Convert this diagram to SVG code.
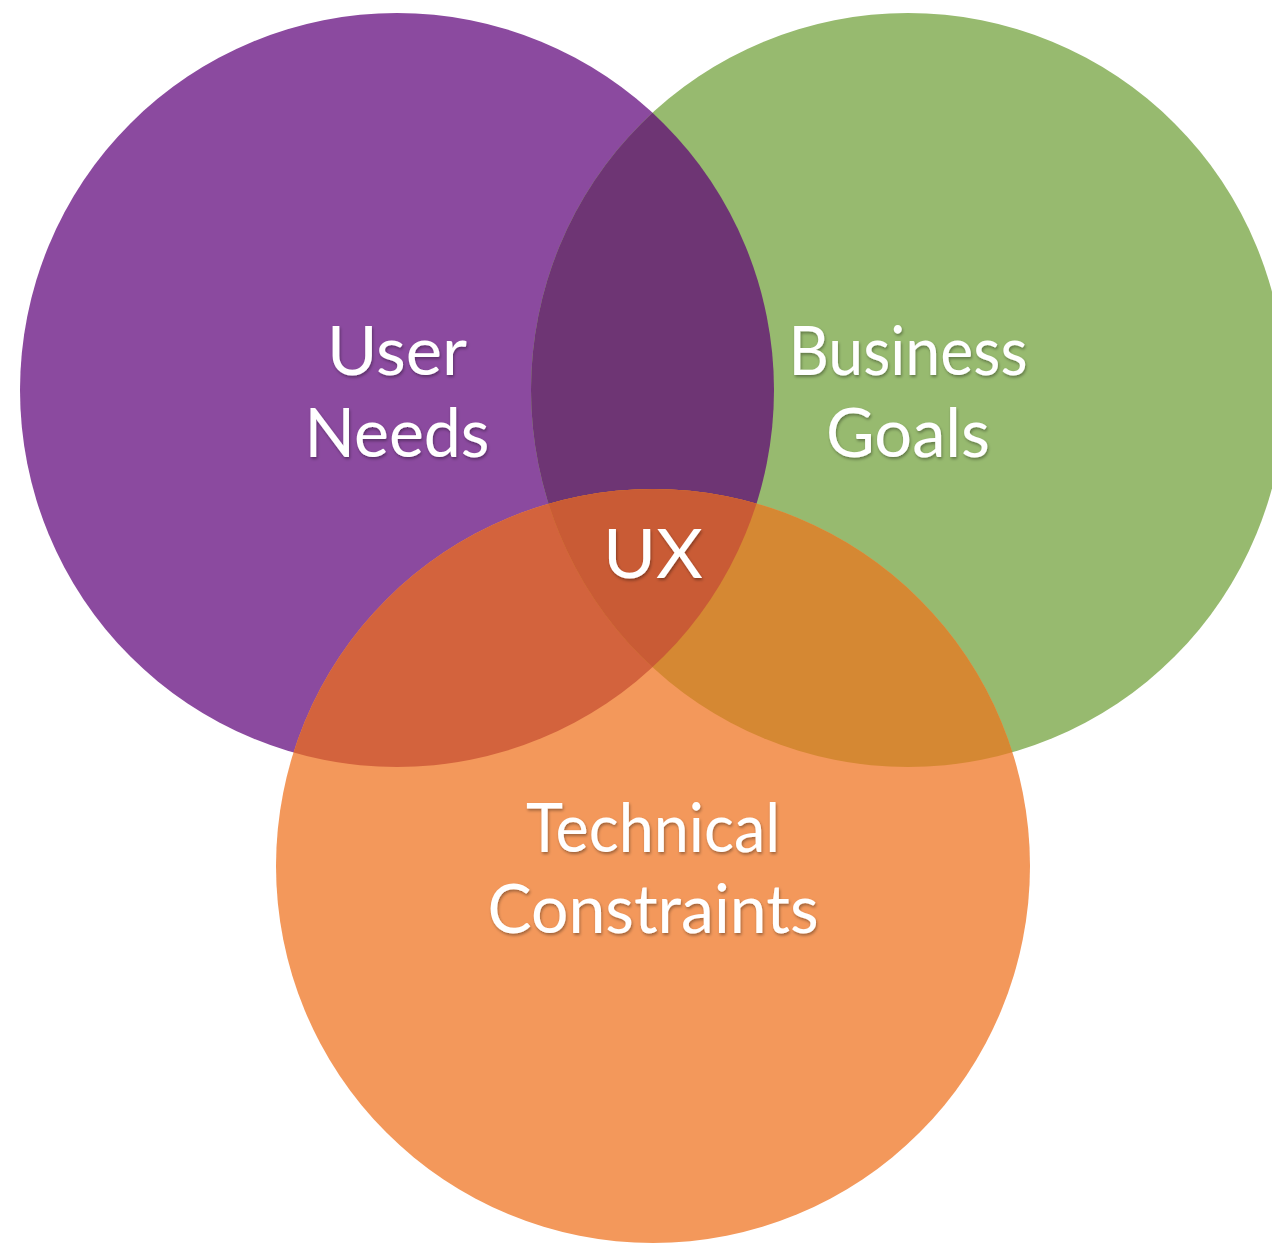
<svg xmlns="http://www.w3.org/2000/svg" width="1272" height="1243" viewBox="0 0 1272 1243">
  <style>
    .lbl { font-family: "Lato", "Open Sans", "Liberation Sans", sans-serif; font-size: 68px; fill: #ffffff; text-anchor: middle; filter: url(#shadow); }
  </style>
  <defs>
    <filter id="shadow" x="-10%" y="-20%" width="120%" height="140%">
      <feDropShadow dx="1" dy="2" stdDeviation="1.5" flood-color="#000000" flood-opacity="0.35"/>
    </filter>
    <clipPath id="clipP"><circle cx="397" cy="390" r="377"/></clipPath>
    <clipPath id="clipG"><circle cx="908" cy="390" r="377"/></clipPath>
  </defs>
  <rect width="1272" height="1243" fill="#ffffff"/>
  <g id="user-needs">
    <circle cx="397" cy="390" r="377" fill="#8B4A9F"/>
  </g>
  <g id="business-goals">
    <circle cx="908" cy="390" r="377" fill="#97BA6F"/>
  </g>
  <g id="technical-constraints">
    <circle cx="653" cy="866" r="377" fill="#F3985B"/>
  </g>
  <g id="overlaps">
    <circle cx="908" cy="390" r="377" fill="#6E3574" clip-path="url(#clipP)"/>
    <circle cx="653" cy="866" r="377" fill="#D3633D" clip-path="url(#clipP)"/>
    <circle cx="653" cy="866" r="377" fill="#D58833" clip-path="url(#clipG)"/>
    <g clip-path="url(#clipG)">
      <circle cx="653" cy="866" r="377" fill="#C95B35" clip-path="url(#clipP)"/>
    </g>
  </g>
  <g id="connectors"/>
  <g id="labels">
    <text class="lbl" x="397" y="375" textLength="140" lengthAdjust="spacingAndGlyphs">User</text>
    <text class="lbl" x="397" y="457" textLength="185" lengthAdjust="spacingAndGlyphs">Needs</text>
    <text class="lbl" x="908" y="375" textLength="239" lengthAdjust="spacingAndGlyphs">Business</text>
    <text class="lbl" x="908" y="457" textLength="164" lengthAdjust="spacingAndGlyphs">Goals</text>
    <text class="lbl" x="653" y="578" textLength="100" lengthAdjust="spacingAndGlyphs">UX</text>
    <text class="lbl" x="653" y="852" textLength="254" lengthAdjust="spacingAndGlyphs">Technical</text>
    <text class="lbl" x="653" y="933" textLength="331" lengthAdjust="spacingAndGlyphs">Constraints</text>
  </g>
</svg>
